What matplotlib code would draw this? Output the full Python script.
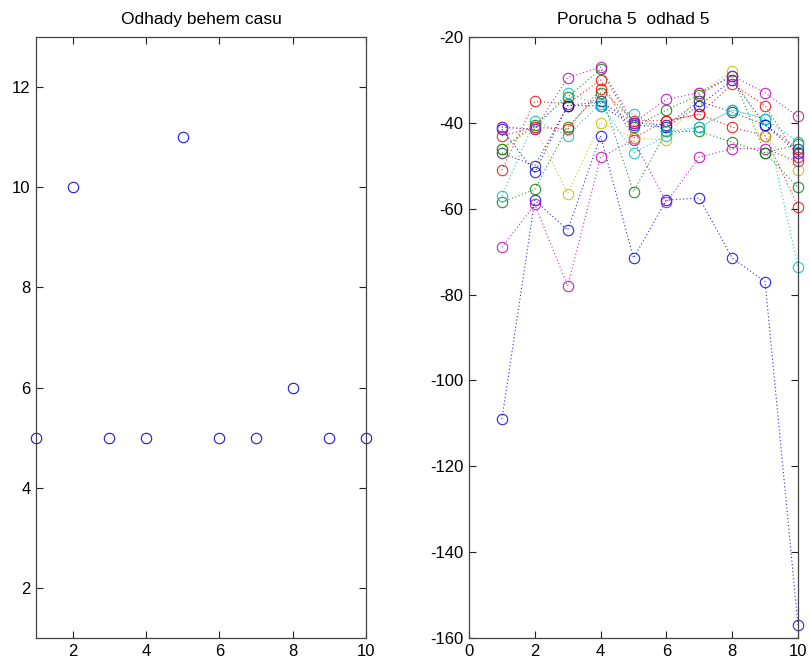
import matplotlib
matplotlib.use("Agg")
import matplotlib.pyplot as plt

plt.rcParams['font.family'] = ['Liberation Sans', 'DejaVu Sans']
plt.rcParams['axes.unicode_minus'] = False

# Left panel data
t = [1, 2, 3, 4, 5, 6, 7, 8, 9, 10]
odhady = [5, 10, 5, 5, 11, 5, 5, 6, 5, 5]

# Right panel data (12 series)
s1 = [-109, -58, -65, -43, -71.5, -58, -57.5, -71.5, -77, -157]
s2 = [-58.5, -55.5, -41, -33, -56, -42, -42, -44.5, -47, -55]
s3 = [-51, -35, -35.5, -30, -43.5, -39.5, -38, -41, -43, -59.5]
s4 = [-57, -39.5, -43, -35.5, -47, -43, -41, -37, -39, -73.5]
s5 = [-69, -59, -78, -48, -44, -58.5, -48, -46, -46, -49]
s6 = [-46, -41, -56.5, -40, -43.5, -44, -33, -28, -43, -51]
s7 = [-47, -50, -36, -35, -40, -40.5, -35, -37.5, -40.5, -46]
s8 = [-41.5, -51.5, -36, -36, -40.5, -41, -36, -30, -40.5, -47]
s9 = [-46, -40.5, -34, -27.5, -41, -37, -33.5, -29, -47, -45]
s10 = [-43, -41, -41.5, -32, -39.5, -39.5, -38, -31, -36, -48]
s11 = [-41, -41.5, -33, -36, -38, -42, -41, -37, -39, -44.5]
s12 = [-41, -41.5, -29.5, -27, -40, -34.5, -33, -29, -33, -38.5]
series = [s1, s2, s3, s4, s5, s6, s7, s8, s9, s10, s11, s12]
colors = [(0, 0, 1), (0, 0.5, 0), (1, 0, 0), (0, 0.75, 0.75), (0.75, 0, 0.75),
          (0.75, 0.75, 0), (0.15, 0.15, 0.45)]

fig = plt.figure(figsize=(8.1, 6.66), dpi=100)
W, H = 810, 666
ax1 = fig.add_axes([36 / W, (H - 638) / H, 330 / W, (638 - 37) / H])
ax2 = fig.add_axes([469 / W, (H - 638) / H, 329 / W, (638 - 37) / H])

ax1.plot(t, odhady, linestyle='none', marker='o', markersize=7.5, clip_on=False,
         markerfacecolor='none', markeredgecolor=(0.1, 0.1, 0.9), markeredgewidth=0.8)
ax1.set_xlim(1, 10)
ax1.set_ylim(1, 13)
ax1.set_xticks([2, 4, 6, 8, 10])
ax1.set_yticks([2, 4, 6, 8, 10, 12])
ax1.set_title('Odhady behem casu', fontsize=12.5, pad=9)

for i, s in enumerate(series):
    c = colors[i % len(colors)]
    ax2.plot(t, s, linestyle=(0, (1, 2.2)), linewidth=0.8, color=c, alpha=0.85,
             marker='o', markersize=7.5, clip_on=False,
             markerfacecolor='none', markeredgecolor=c, markeredgewidth=0.8)
ax2.set_xlim(0, 10)
ax2.set_ylim(-160, -20)
ax2.set_xticks([0, 2, 4, 6, 8, 10])
ax2.set_yticks([-160, -140, -120, -100, -80, -60, -40, -20])
ax2.set_title('Porucha 5  odhad 5', fontsize=12.5, pad=9)

for ax in (ax1, ax2):
    ax.tick_params(direction='in', top=True, right=True, labelsize=12, length=5,
                   color='#222222', pad=4)
    for sp in ax.spines.values():
        sp.set_color('#444444')
        sp.set_linewidth(0.9)

fig.savefig('out.png', dpi=100)
